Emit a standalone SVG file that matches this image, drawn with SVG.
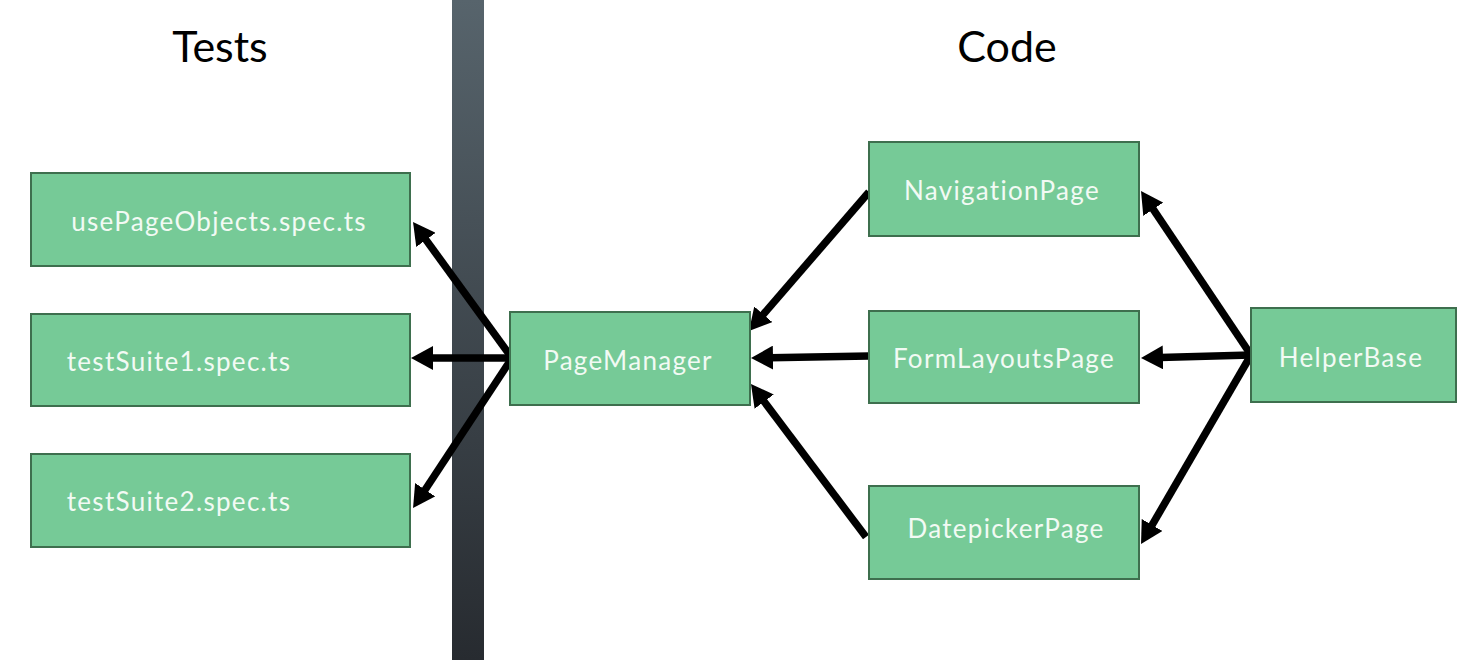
<svg xmlns="http://www.w3.org/2000/svg" width="1472" height="660" viewBox="0 0 1472 660">
<style>
.box{fill:#76ca97;stroke:#3e6f4e;stroke-width:2}
.lbl{font-family:Lato,"Noto Sans",sans-serif;font-size:26px;letter-spacing:1.3px;font-variant-ligatures:none;fill:#f2faf4;text-anchor:middle;dominant-baseline:central}
.title{font-family:Lato,"Noto Sans",sans-serif;font-size:43px;fill:#000;text-anchor:middle}
.conn line{stroke:#000;stroke-width:7.5;marker-end:url(#ah)}
</style>
<defs>
<linearGradient id="bar" x1="0" y1="0" x2="0" y2="1">
<stop offset="0" stop-color="#57646c"/>
<stop offset="1" stop-color="#272b30"/>
</linearGradient>
<marker id="ah" markerUnits="userSpaceOnUse" viewBox="0 0 22 24" markerWidth="22" markerHeight="24" refX="3" refY="12" orient="auto">
<path d="M0,0 L22,12 L0,24 z" fill="#000"/>
</marker>
</defs>
<rect width="1472" height="660" fill="#fff"/>
<rect x="452" y="0" width="32" height="660" fill="url(#bar)"/>
<text class="title" x="220" y="62">Tests</text>
<text class="title" x="1007" y="62">Code</text>
<g class="conn" id="connectors">
<line x1="512" y1="358" x2="424.2" y2="237.4"/>
<line x1="512" y1="358" x2="430" y2="358"/>
<line x1="512" y1="358" x2="423.5" y2="492.2"/>
<line x1="869" y1="192" x2="761.4" y2="316.6"/>
<line x1="869" y1="356" x2="770" y2="357.7"/>
<line x1="866" y1="537" x2="762.4" y2="399.2"/>
<line x1="1251" y1="355" x2="1151.6" y2="206.8"/>
<line x1="1251" y1="355" x2="1160" y2="357.5"/>
<line x1="1251" y1="355" x2="1150.6" y2="527.6"/>
</g>
<g id="usePageObjects"><rect class="box" x="31" y="173" width="379" height="93"/><text class="lbl" x="219" y="221">usePageObjects.spec.ts</text></g>
<g id="testSuite1"><rect class="box" x="31" y="314" width="379" height="92"/><text class="lbl" x="179" y="361">testSuite1.spec.ts</text></g>
<g id="testSuite2"><rect class="box" x="31" y="454" width="379" height="93"/><text class="lbl" x="179" y="501">testSuite2.spec.ts</text></g>
<g id="PageManager"><rect class="box" x="510" y="312" width="240" height="93"/><text class="lbl" x="628" y="360">PageManager</text></g>
<g id="NavigationPage"><rect class="box" x="869" y="142" width="270" height="94"/><text class="lbl" x="1002" y="190">NavigationPage</text></g>
<g id="FormLayoutsPage"><rect class="box" x="869" y="311" width="270" height="92"/><text class="lbl" x="1004" y="358">FormLayoutsPage</text></g>
<g id="DatepickerPage"><rect class="box" x="869" y="486" width="270" height="93"/><text class="lbl" x="1006" y="528">DatepickerPage</text></g>
<g id="HelperBase"><rect class="box" x="1251" y="308" width="205" height="94"/><text class="lbl" x="1351" y="357">HelperBase</text></g>
</svg>
